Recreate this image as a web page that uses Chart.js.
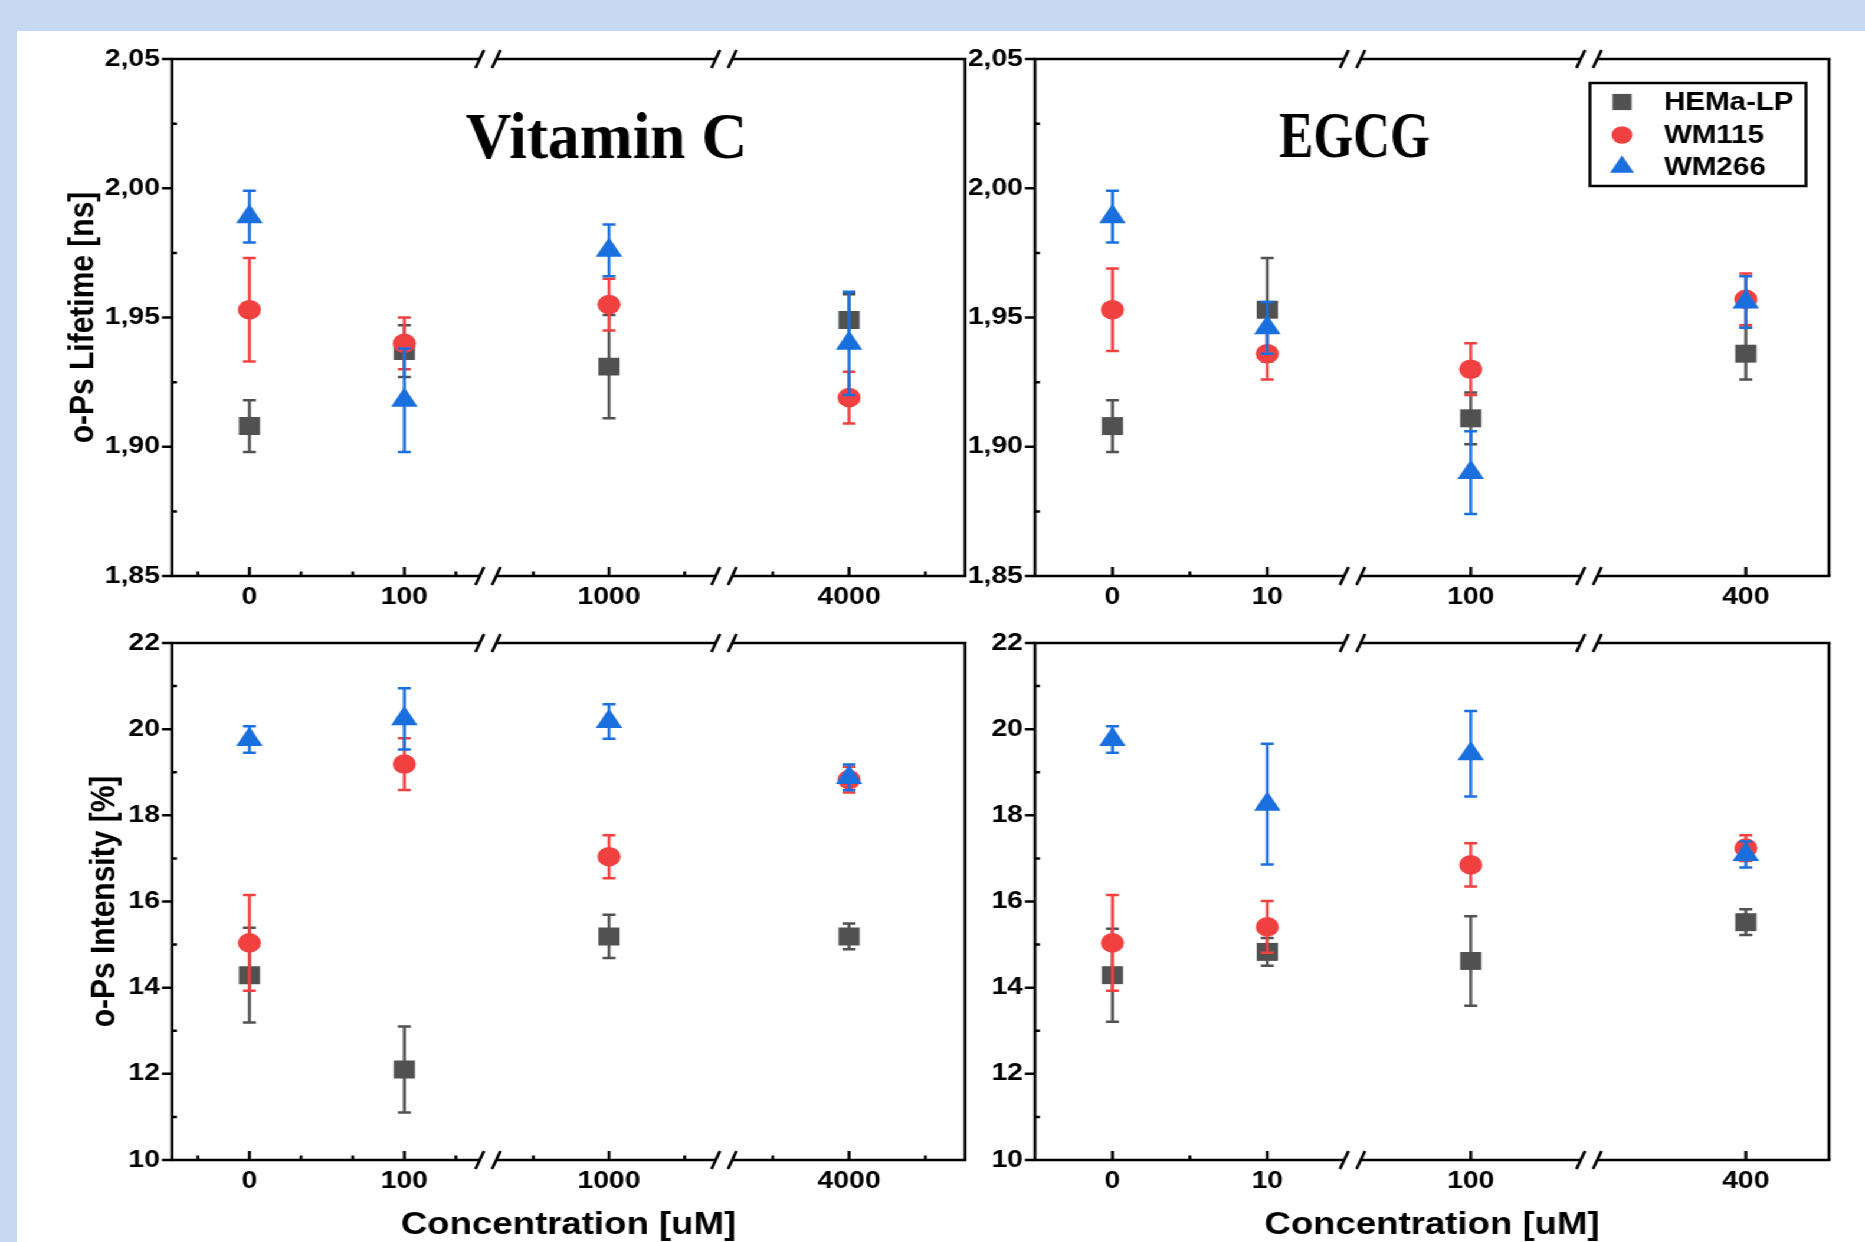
<!DOCTYPE html>
<html>
<head>
<meta charset="utf-8">
<title>o-Ps lifetime and intensity</title>
<script src="https://cdn.jsdelivr.net/npm/chart.js@4.4.1/dist/chart.umd.min.js"></script>
<style>
  html, body { margin: 0; padding: 0; }
  body { width: 1865px; height: 1242px; background: #c6d9f0; position: relative; overflow: hidden; }
  #sheet { position: absolute; left: 17px; top: 31px; right: 0; bottom: 0; background: #fff; }
  /* the source figure is stretched sideways, so the whole drawing is too */
  #wrap { position: absolute; left: 0; top: 0; width: 1580px; height: 1242px; transform: scaleX(1.18); transform-origin: 0 0; }
  #wrap canvas { position: absolute; }
</style>
</head>
<body>
<div id="sheet"></div>
<div id="wrap">
  <canvas id="lifeVitc"></canvas>
  <canvas id="intVitc"></canvas>
  <canvas id="lifeEgcg"></canvas>
  <canvas id="intEgcg"></canvas>
</div>
<script>
// Concentrations [uM]
const vitcConc = [0, 100, 1000, 4000];
const egcgConc = [0, 10, 100, 400];
const seriesNames = ['HEMa-LP', 'WM115', 'WM266'];

// o-Ps lifetime [ns], Vitamin C
const vitcLifeHema = [1.908, 1.937, 1.931, 1.949];
const vitcLifeHemaErr = [0.010, 0.010, 0.020, 0.010];
const vitcLifeWm115 = [1.953, 1.940, 1.955, 1.919];
const vitcLifeWm115Err = [0.020, 0.010, 0.010, 0.010];
const vitcLifeWm266 = [1.989, 1.918, 1.976, 1.940];
const vitcLifeWm266Err = [0.010, 0.020, 0.010, 0.020];

// o-Ps lifetime [ns], EGCG
const egcgLifeHema = [1.908, 1.953, 1.911, 1.936];
const egcgLifeHemaErr = [0.010, 0.020, 0.010, 0.010];
const egcgLifeWm115 = [1.953, 1.936, 1.930, 1.957];
const egcgLifeWm115Err = [0.016, 0.010, 0.010, 0.010];
const egcgLifeWm266 = [1.989, 1.946, 1.890, 1.956];
const egcgLifeWm266Err = [0.010, 0.010, 0.016, 0.010];

// o-Ps intensity [%], Vitamin C
const vitcIntHema = [14.29, 12.10, 15.19, 15.19];
const vitcIntHemaErr = [1.10, 1.00, 0.50, 0.30];
const vitcIntWm115 = [15.04, 19.19, 17.04, 18.83];
const vitcIntWm115Err = [1.11, 0.60, 0.50, 0.30];
const vitcIntWm266 = [19.76, 20.24, 20.18, 18.88];
const vitcIntWm266Err = [0.31, 0.71, 0.40, 0.30];

// o-Ps intensity [%], EGCG
const egcgIntHema = [14.29, 14.83, 14.62, 15.52];
const egcgIntHemaErr = [1.08, 0.32, 1.04, 0.30];
const egcgIntWm115 = [15.04, 15.41, 16.85, 17.24];
const egcgIntWm115Err = [1.11, 0.60, 0.50, 0.30];
const egcgIntWm266 = [19.76, 18.26, 19.43, 17.09];
const egcgIntWm266Err = [0.31, 1.40, 0.99, 0.30];

// Broken x axis: each piece covers a concentration range and a share of the width
const vitcSegs = [{from: -50, to: 154, w: 316}, {from: 200, to: 1760, w: 236}, {from: 3180, to: 4760, w: 241}];
const egcgSegs = [{from: -5, to: 15.5, w: 317.5}, {from: 50, to: 150, w: 236.5}, {from: 300, to: 453, w: 240}];
const vitcMinor = [-33.3, 33.3, 66.7, 133.3, 500, 1500, 3500, 4500];
const egcgMinor = [5];

const S = 1.18;
const colors = ['#515151', '#F14040', '#1A6FDF'];
const shapes = ['rect', 'circle', 'triangle'];
const radii = [12.7, 9.8, 13];

Chart.defaults.font.family = "'Liberation Sans', Arial, sans-serif";
Chart.defaults.font.weight = 'bold';
Chart.defaults.color = '#000';

function brk(segs, v) {
  let start = 0;
  for (const s of segs) {
    if (v <= s.to) return start + (v - s.from) / (s.to - s.from) * s.w;
    start += s.w;
  }
  return start;
}

function lifeLabel(v) {
  const k = Math.round(v / 0.025);
  return k % 2 === 0 ? (k * 0.025).toFixed(2).replace('.', ',') : '';
}
function intLabel(v) {
  const k = Math.round(v);
  return k % 2 === 0 ? String(k) : '';
}

function marker(ctx, style, r, x, y) {
  ctx.beginPath();
  if (style === 'rect') {
    const h = r * Math.SQRT1_2;
    ctx.rect(x - h, y - h, 2 * h, 2 * h);
  } else if (style === 'circle') {
    ctx.arc(x, y, r, 0, Math.PI * 2);
  } else {
    for (let i = 0; i < 3; i++) {
      const a = i * Math.PI * 2 / 3;
      ctx[i ? 'lineTo' : 'moveTo'](x + Math.sin(a) * r, y - Math.cos(a) * r);
    }
    ctx.closePath();
  }
  ctx.fill();
}

// Error bars, drawn under each series' own symbols
const errorBars = {
  id: 'errorBars',
  beforeDatasetDraw(chart, args) {
    const ds = chart.data.datasets[args.index];
    const y = chart.scales.y;
    const ctx = chart.ctx;
    ctx.save();
    ctx.strokeStyle = ds.borderColor;
    ctx.lineWidth = 2.5;
    ctx.beginPath();
    args.meta.data.forEach((pt, i) => {
      const v = ds.data[i].y, e = ds.errors[i];
      const yt = y.getPixelForValue(v + e), yb = y.getPixelForValue(v - e);
      ctx.moveTo(pt.x, yt); ctx.lineTo(pt.x, yb);
      ctx.moveTo(pt.x - 5.5, yt); ctx.lineTo(pt.x + 5.5, yt);
      ctx.moveTo(pt.x - 5.5, yb); ctx.lineTo(pt.x + 5.5, yb);
    });
    ctx.stroke();
    ctx.restore();
  }
};

// Box with axis breaks and tick marks
const frame = {
  id: 'frame',
  afterDraw(chart, args, opts) {
    const {ctx, chartArea: a, scales: {x, y}} = chart;
    const gap = 7;
    const bx = opts.breaks.map(b => x.getPixelForValue(b));
    ctx.save();
    ctx.strokeStyle = '#000';
    ctx.lineWidth = 2.5;
    [a.top, a.bottom].forEach(yy => {
      let start = a.left - 1.25;
      ctx.beginPath();
      bx.forEach(b => { ctx.moveTo(start, yy); ctx.lineTo(b - gap, yy); start = b + gap; });
      ctx.moveTo(start, yy); ctx.lineTo(a.right + 1.25, yy);
      ctx.stroke();
      ctx.beginPath();
      bx.forEach(b => [-gap, gap].forEach(d => {
        ctx.moveTo(b + d - 3.6, yy + 9); ctx.lineTo(b + d + 3.6, yy - 9);
      }));
      ctx.stroke();
    });
    ctx.beginPath();
    ctx.moveTo(a.left, a.top); ctx.lineTo(a.left, a.bottom);
    ctx.moveTo(a.right, a.top); ctx.lineTo(a.right, a.bottom);
    x.ticks.forEach(t => {
      const px = x.getPixelForValue(t.value);
      ctx.moveTo(px, a.bottom); ctx.lineTo(px, a.bottom - (t.big ? 9 : 4.5));
    });
    y.ticks.forEach(t => {
      const py = y.getPixelForValue(t.value);
      ctx.moveTo(a.left, py);
      ctx.lineTo(t.label !== '' ? a.left - 8.5 : a.left + 4.2, py);
    });
    ctx.stroke();
    ctx.restore();
  }
};

// Panel title and the legend box
const panelText = {
  id: 'panelText',
  afterDraw(chart, args, opts) {
    const ctx = chart.ctx;
    if (opts.title) {
      const t = opts.title;
      ctx.save();
      ctx.font = 'bold 66px "Liberation Serif", "Times New Roman", serif';
      ctx.fillStyle = '#000';
      ctx.textAlign = 'center';
      ctx.textBaseline = 'alphabetic';
      const w = ctx.measureText(t.text).width;
      ctx.translate(t.x, t.y);
      ctx.scale(t.w / w, 1);
      ctx.fillText(t.text, 0, 0);
      ctx.restore();
    }
    if (opts.legend) {
      const L = opts.legend;
      ctx.save();
      ctx.strokeStyle = '#000';
      ctx.lineWidth = 2.5;
      ctx.strokeRect(L.x0, L.y0, L.x1 - L.x0, L.y1 - L.y0);
      ctx.font = "bold 25px 'Liberation Sans', Arial, sans-serif";
      ctx.textBaseline = 'middle';
      chart.data.datasets.forEach((ds, k) => {
        const yy = L.rows[k];
        ctx.fillStyle = ds.backgroundColor;
        marker(ctx, ds.pointStyle, ds.pointRadius * 0.9, L.mx, yy);
        ctx.fillStyle = '#000';
        ctx.fillText(ds.label, L.tx, yy + 1);
      });
      ctx.restore();
    }
  }
};

function makePanel(id, o) {
  const cv = document.getElementById(id);
  cv.width = o.cw; cv.height = o.ch;
  cv.style.left = o.cx + 'px'; cv.style.top = o.cy + 'px';
  cv.style.width = o.cw + 'px'; cv.style.height = o.ch + 'px';
  const ux = px => px / S - o.cx;
  const plotL = ux(o.plot[0]), plotR = ux(o.plot[1]);
  const plotT = o.plot[2] - o.cy, plotB = o.plot[3] - o.cy;
  const total = o.segs.reduce((a, s) => a + s.w, 0);
  const breaks = [o.segs[0].w, o.segs[0].w + o.segs[1].w];

  const datasets = o.vals.map((vals, k) => ({
    label: seriesNames[k],
    data: o.conc.map((c, i) => ({x: brk(o.segs, c), y: vals[i]})),
    errors: o.errs[k],
    backgroundColor: colors[k],
    borderColor: colors[k],
    pointStyle: shapes[k],
    pointRadius: radii[k],
    pointBorderWidth: 0,
    order: 3 - k
  }));

  const textOpts = {};
  if (o.title) textOpts.title = {text: o.title.text, x: ux(o.title.cx), y: o.title.base - o.cy, w: o.title.w / S};
  if (o.legend) textOpts.legend = {
    x0: ux(1590), x1: ux(1806), y0: 83 - o.cy, y1: 186 - o.cy,
    mx: ux(1622), tx: ux(1664), rows: [102, 135, 167].map(v => v - o.cy)
  };

  new Chart(cv, {
    type: 'scatter',
    data: {datasets},
    options: {
      responsive: false,
      animation: false,
      events: [],
      layout: {padding: {left: 0, top: plotT, right: o.cw - plotR, bottom: 0}},
      plugins: {
        legend: {display: false},
        tooltip: {enabled: false},
        frame: {breaks},
        panelText: textOpts
      },
      scales: {
        x: {
          type: 'linear',
          min: 0, max: total,
          afterFit(sc) { sc.height = o.ch - plotB; },
          afterBuildTicks(sc) {
            const t = o.conc.map(c => ({value: brk(o.segs, c), lbl: String(c), big: true}));
            o.minor.forEach(m => t.push({value: brk(o.segs, m), lbl: '', big: false}));
            t.sort((a, b) => a.value - b.value);
            sc.ticks = t;
          },
          ticks: {
            autoSkip: false, maxRotation: 0, padding: 6.6,
            font: {size: 24},
            callback: (v, i, ticks) => ticks[i].lbl || ''
          },
          grid: {display: false, drawTicks: false},
          border: {display: false},
          title: {display: !!o.xtitle, text: o.xtitle || '', font: {size: 31, lineHeight: 1}, padding: {top: 0, bottom: 1}}
        },
        y: {
          min: o.ymin, max: o.ymax,
          afterFit(sc) { sc.width = plotL; },
          ticks: {stepSize: o.ystep, autoSkip: false, padding: 10.2, font: {size: 24}, callback: o.ylabel},
          grid: {display: false, drawTicks: false},
          border: {display: false},
          title: {display: !!o.ytitle, text: o.ytitle || '', font: {size: 30}, padding: {top: o.ytitlePad || 0, bottom: 0}}
        }
      }
    },
    plugins: [errorBars, frame, panelText]
  });
}

makePanel('lifeVitc', {
  cx: 15, cy: 0, cw: 840, ch: 621, plot: [172, 965, 59, 576],
  conc: vitcConc, segs: vitcSegs, minor: vitcMinor,
  vals: [vitcLifeHema, vitcLifeWm115, vitcLifeWm266],
  errs: [vitcLifeHemaErr, vitcLifeWm115Err, vitcLifeWm266Err],
  ymin: 1.85, ymax: 2.05, ystep: 0.025, ylabel: lifeLabel,
  ytitle: 'o-Ps Lifetime [ns]', ytitlePad: 37.3,
  title: {text: 'Vitamin C', cx: 606.5, base: 158, w: 282}
});

makePanel('intVitc', {
  cx: 15, cy: 600, cw: 840, ch: 642, plot: [172, 965, 643, 1160],
  conc: vitcConc, segs: vitcSegs, minor: vitcMinor,
  vals: [vitcIntHema, vitcIntWm115, vitcIntWm266],
  errs: [vitcIntHemaErr, vitcIntWm115Err, vitcIntWm266Err],
  ymin: 10, ymax: 22, ystep: 1, ylabel: intLabel,
  ytitle: 'o-Ps Intensity [%]', ytitlePad: 56,
  xtitle: 'Concentration [uM]'
});

makePanel('lifeEgcg', {
  cx: 821, cy: 0, cw: 759, ch: 621, plot: [1035, 1829, 59, 576],
  conc: egcgConc, segs: egcgSegs, minor: egcgMinor,
  vals: [egcgLifeHema, egcgLifeWm115, egcgLifeWm266],
  errs: [egcgLifeHemaErr, egcgLifeWm115Err, egcgLifeWm266Err],
  ymin: 1.85, ymax: 2.05, ystep: 0.025, ylabel: lifeLabel,
  title: {text: 'EGCG', cx: 1354.5, base: 157, w: 151},
  legend: true
});

makePanel('intEgcg', {
  cx: 821, cy: 600, cw: 759, ch: 642, plot: [1035, 1829, 643, 1160],
  conc: egcgConc, segs: egcgSegs, minor: egcgMinor,
  vals: [egcgIntHema, egcgIntWm115, egcgIntWm266],
  errs: [egcgIntHemaErr, egcgIntWm115Err, egcgIntWm266Err],
  ymin: 10, ymax: 22, ystep: 1, ylabel: intLabel,
  xtitle: 'Concentration [uM]'
});
</script>
</body>
</html>
